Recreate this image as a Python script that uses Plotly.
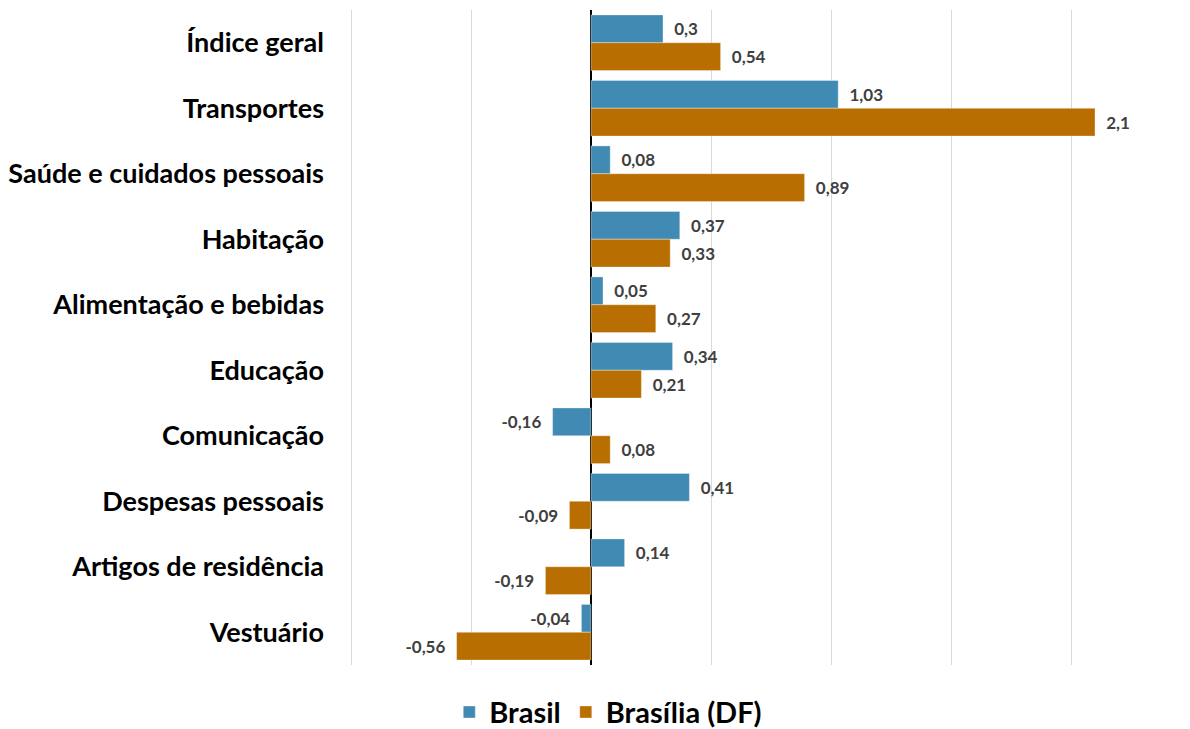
import plotly.graph_objects as go

categorias = [
    "Índice geral",
    "Transportes",
    "Saúde e cuidados pessoais",
    "Habitação",
    "Alimentação e bebidas",
    "Educação",
    "Comunicação",
    "Despesas pessoais",
    "Artigos de residência",
    "Vestuário",
]
brasil = [0.3, 1.03, 0.08, 0.37, 0.05, 0.34, -0.16, 0.41, 0.14, -0.04]
brasilia_df = [0.54, 2.1, 0.89, 0.33, 0.27, 0.21, 0.08, -0.09, -0.19, -0.56]

AZUL = "#418AB3"
LARANJA = "#B86E00"
FONTE = "Lato"
PAD = "\u00a0\u00a0"


def rotulo(v):
    s = f"{v:g}".replace(".", ",")
    return PAD + s if v >= 0 else s + PAD


fig = go.Figure()
for nome, valores, cor in [("Brasil", brasil, AZUL), ("Brasília (DF)", brasilia_df, LARANJA)]:
    fig.add_trace(go.Bar(
        name=nome,
        y=categorias,
        x=valores,
        orientation="h",
        marker=dict(color=cor, line=dict(color="rgba(255,255,255,0.35)", width=1)),
        text=[rotulo(v) for v in valores],
        textposition="outside",
        textfont=dict(family=FONTE, size=17, color="#404040", weight="bold"),
        cliponaxis=False,
    ))

fig.update_layout(
    width=1190,
    height=729,
    barmode="group",
    bargap=0.15,
    bargroupgap=0,
    plot_bgcolor="white",
    paper_bgcolor="white",
    margin=dict(l=339, r=59, t=10, b=64, autoexpand=False),
    font=dict(family=FONTE),
    showlegend=True,
    legend=dict(
        orientation="h",
        x=0.34,
        xanchor="center",
        y=-0.072,
        yanchor="middle",
        font=dict(family=FONTE, size=29, color="black", weight="bold"),
        itemwidth=30,
        traceorder="normal",
    ),
    xaxis=dict(
        range=[-1.05, 2.25],
        tickvals=[-1, -0.5, 0, 0.5, 1, 1.5, 2],
        showticklabels=False,
        showgrid=True,
        gridcolor="#D9D9D9",
        gridwidth=1,
        zeroline=True,
        zerolinecolor="black",
        zerolinewidth=2,
        showline=False,
    ),
    yaxis=dict(
        autorange="reversed",
        showgrid=False,
        showline=False,
        ticks="",
        ticklabelstandoff=14,
        tickfont=dict(family=FONTE, size=27, color="black", weight="bold"),
    ),
)

fig.write_html("out.html")
